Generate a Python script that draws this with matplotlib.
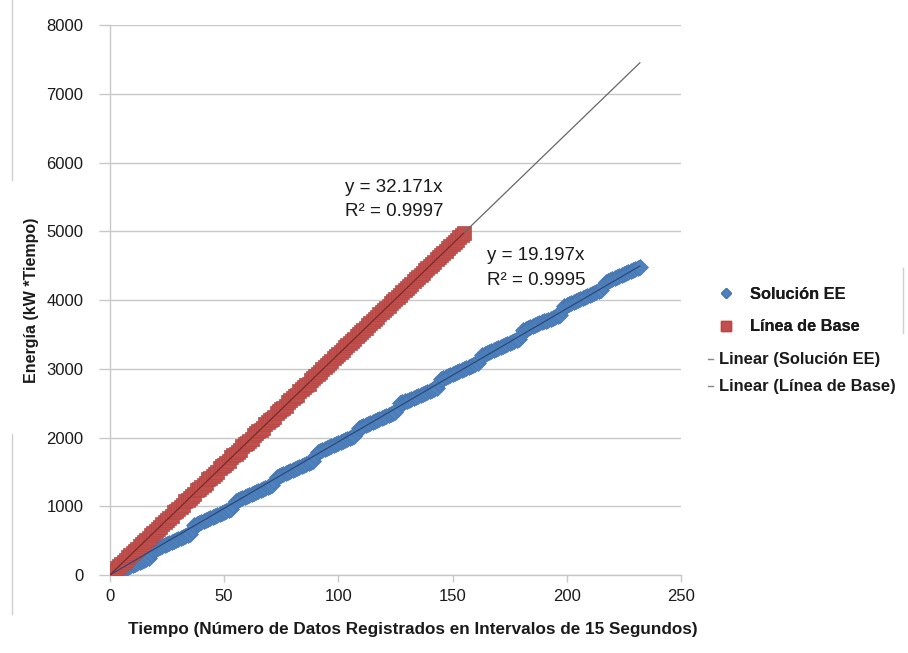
import numpy as np
import matplotlib
matplotlib.use("Agg")
import matplotlib.pyplot as plt
from matplotlib.lines import Line2D

plt.rcParams['font.family'] = ['Liberation Sans', 'DejaVu Sans']

# ---- data ----
solucion_ee = [
    0, 14, 29, 43, 58, 72, 86, 101, 115, 130, 144, 158, 173, 187, 202, 216, 230, 245,
    307, 369, 383, 398, 412, 426, 441, 455, 470, 484, 498, 513, 527, 542, 556, 570, 585, 599,
    661, 723, 738, 752, 766, 781, 795, 810, 824, 838, 853, 867, 882, 896, 910, 925, 939, 954,
    1016, 1078, 1092, 1106, 1121, 1135, 1150, 1164, 1178, 1193, 1207, 1222, 1236, 1250, 1265, 1279, 1294, 1308,
    1370, 1432, 1446, 1461, 1475, 1490, 1504, 1518, 1533, 1547, 1562, 1576, 1590, 1605, 1619, 1634, 1648, 1662,
    1724, 1786, 1801, 1815, 1830, 1844, 1858, 1873, 1887, 1902, 1916, 1930, 1945, 1959, 1974, 1988, 2002, 2017,
    2079, 2141, 2155, 2170, 2184, 2198, 2213, 2227, 2242, 2256, 2270, 2285, 2299, 2314, 2328, 2342, 2357, 2371,
    2433, 2495, 2510, 2524, 2538, 2553, 2567, 2582, 2596, 2610, 2625, 2639, 2654, 2668, 2682, 2697, 2711, 2726,
    2788, 2850, 2864, 2878, 2893, 2907, 2922, 2936, 2950, 2965, 2979, 2994, 3008, 3022, 3037, 3051, 3066, 3080,
    3142, 3204, 3218, 3233, 3247, 3262, 3276, 3290, 3305, 3319, 3334, 3348, 3362, 3377, 3391, 3406, 3420, 3434,
    3496, 3558, 3573, 3587, 3602, 3616, 3630, 3645, 3659, 3674, 3688, 3702, 3717, 3731, 3746, 3760, 3774, 3789,
    3851, 3913, 3927, 3942, 3956, 3970, 3985, 3999, 4014, 4028, 4042, 4057, 4071, 4086, 4100, 4114, 4129, 4143,
    4205, 4267, 4282, 4296, 4310, 4325, 4339, 4354, 4368, 4382, 4397, 4411, 4426, 4440, 4454, 4469, 4483,
]
linea_base = [
    0, 27, 55,
    106, 133, 161, 188, 215,
    266, 294, 321, 349, 376,
    427, 454, 482, 509, 537,
    588, 615, 642, 670, 697,
    748, 776, 803, 830, 858,
    909, 936, 964, 991, 1018,
    1069, 1097, 1124, 1152, 1179,
    1230, 1257, 1285, 1312, 1340,
    1391, 1418, 1445, 1473, 1500,
    1551, 1579, 1606, 1633, 1661,
    1712, 1739, 1767, 1794, 1821,
    1872, 1900, 1927, 1955, 1982,
    2033, 2060, 2088, 2115, 2143,
    2194, 2221, 2248, 2276, 2303,
    2354, 2382, 2409, 2436, 2464,
    2515, 2542, 2570, 2597, 2624,
    2675, 2703, 2730, 2758, 2785,
    2836, 2863, 2891, 2918, 2946,
    2997, 3024, 3051, 3079, 3106,
    3157, 3185, 3212, 3239, 3267,
    3318, 3345, 3373, 3400, 3427,
    3478, 3506, 3533, 3561, 3588,
    3639, 3666, 3694, 3721, 3749,
    3800, 3827, 3854, 3882, 3909,
    3960, 3988, 4015, 4042, 4070,
    4121, 4148, 4176, 4203, 4230,
    4281, 4309, 4336, 4364, 4391,
    4442, 4469, 4497, 4524, 4552,
    4603, 4630, 4657, 4685, 4712,
    4763, 4791, 4818, 4845, 4873,
    4924, 4951, 4979,
]
x_ee = list(range(len(solucion_ee)))
x_base = list(range(len(linea_base)))

eq_base = ["y = 32.171x", "R² = 0.9997"]
eq_ee = ["y = 19.197x", "R² = 0.9995"]

series_names = ["Solución EE", "Línea de Base", "Linear (Solución EE)", "Linear (Línea de Base)"]
xticks = [0, 50, 100, 150, 200, 250]
yticks = [0, 1000, 2000, 3000, 4000, 5000, 6000, 7000, 8000]

BLUE = "#4f81bd"
BLUE_E = "#4676b2"
RED = "#c0504d"
RED_E = "#b64744"
GRID = "#c8c8c8"
TXT = "#1a1a1a"

fig = plt.figure(figsize=(9.08, 6.53), dpi=100)
ax = fig.add_axes([0.121, 0.1195, 0.629, 0.842])

ax.plot(x_ee, solucion_ee, linestyle='none', marker='D', markersize=8,
        color=BLUE, markeredgecolor=BLUE_E, markeredgewidth=0.5, zorder=3)
ax.plot(x_base, linea_base, linestyle='none', marker='s', markersize=9.5,
        color=RED, markeredgecolor=RED_E, markeredgewidth=0.5, zorder=3)

# linear trendlines through origin
xe = np.array(x_ee, float); ye = np.array(solucion_ee, float)
xb = np.array(x_base, float); yb = np.array(linea_base, float)
k_ee = (xe * ye).sum() / (xe * xe).sum()
k_b = (xb * yb).sum() / (xb * xb).sum()
xmax = xe.max()
ax.plot([0, xmax], [0, k_ee * xmax], color="#2a4a78", lw=0.9, zorder=4)
ax.plot([0, xb.max()], [0, k_b * xb.max()], color="#7a2a28", lw=0.9, zorder=4)
ax.plot([xb.max(), xmax], [k_b * xb.max(), k_b * xmax], color="#666666", lw=0.9, zorder=4)

ax.set_xlim(0, 250)
ax.set_ylim(0, 8000)
ax.set_xticks(xticks)
ax.set_yticks(yticks)
ax.tick_params(axis='both', labelsize=12, labelcolor=TXT, color=GRID, width=1.0)
ax.tick_params(axis='y', length=8, pad=11)
ax.tick_params(axis='x', length=5, pad=5)
ax.yaxis.grid(True, color=GRID, lw=1.0)
ax.set_axisbelow(True)
for s in ['top', 'right']:
    ax.spines[s].set_visible(False)
for s in ['left', 'bottom']:
    ax.spines[s].set_color(GRID)
    ax.spines[s].set_linewidth(1.0)

ax.set_xlabel("Tiempo (Número de Datos Registrados en Intervalos de 15 Segundos)",
              fontsize=12.3, fontweight='bold', labelpad=13, color=TXT)
ax.xaxis.label.set_x(0.53)
ax.set_ylabel("Energía (kW *Tiempo)", fontsize=11.5, fontweight='bold', labelpad=5, color=TXT)

ax.text(102.9, 5640, eq_base[0], fontsize=13.5, va='center', ha='left', color=TXT)
ax.text(102.9, 5290, eq_base[1], fontsize=13.5, va='center', ha='left', color=TXT)
ax.text(165, 4650, eq_ee[0], fontsize=13.5, va='center', ha='left', color=TXT)
ax.text(165, 4290, eq_ee[1], fontsize=13.5, va='center', ha='left', color=TXT)

# legend
h1 = Line2D([], [], linestyle='none', marker='D', markersize=5, color=BLUE, markeredgecolor=BLUE_E)
h2 = Line2D([], [], linestyle='none', marker='s', markersize=7, color=RED, markeredgecolor=RED_E)
h3 = Line2D([], [], color="#888888", lw=1.0)
h4 = Line2D([], [], color="#888888", lw=1.0)
leg1 = fig.legend([h1, h2], series_names[:2], loc='upper left', bbox_to_anchor=(0.772, 0.583),
                  frameon=False, prop={'weight': 'bold', 'size': 11.8}, handlelength=1.2,
                  handletextpad=0.9, labelspacing=1.05, labelcolor=TXT)
leg2 = fig.legend([h3, h4], series_names[2:], loc='upper left', bbox_to_anchor=(0.763, 0.483),
                  frameon=False, prop={'weight': 'bold', 'size': 11.9}, handlelength=0.3,
                  handletextpad=0.4, labelspacing=0.72, labelcolor=TXT)
fig.add_artist(leg1)

# faint chart-area frame remnants
frame = dict(color="#cfcfcf", lw=1.0, transform=fig.transFigure)
fig.add_artist(Line2D([0.013, 0.013], [1.0, 0.725], **frame))
fig.add_artist(Line2D([0.013, 0.013], [0.335, 0.06], **frame))
fig.add_artist(Line2D([0.994, 0.994], [0.59, 0.49], **frame))

fig.savefig("out.png", dpi=100, facecolor='white')
